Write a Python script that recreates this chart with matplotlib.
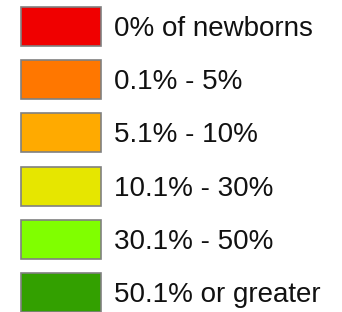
import matplotlib.pyplot as plt

# legend categories and their fill colours
labels = ['0% of newborns', '0.1% - 5%', '5.1% - 10%',
          '10.1% - 30%', '30.1% - 50%', '50.1% or greater']
colors = ['#F00000', '#FF7700', '#FFAA00', '#E6E600', '#80FF00', '#33A000']

fig = plt.figure(figsize=(3.42, 3.12), dpi=100)
ax = fig.add_axes([0, 0, 1, 1])

rows = range(len(labels))
ax.barh(rows, 80, left=21, height=0.735, color=colors,
        edgecolor='#808080', linewidth=1.2)
for i, lab in enumerate(labels):
    # baseline sits a bit below the box centre
    ax.text(114, i + 0.18, lab, va='baseline', ha='left', fontsize=20,
            family='Liberation Sans', color='#111111')

# pixel-like x scale, one row every ~53 px
ax.set_xlim(0, 342)
ax.set_ylim(5.367, -0.498)
ax.axis('off')

plt.savefig('out.png', dpi=100)
